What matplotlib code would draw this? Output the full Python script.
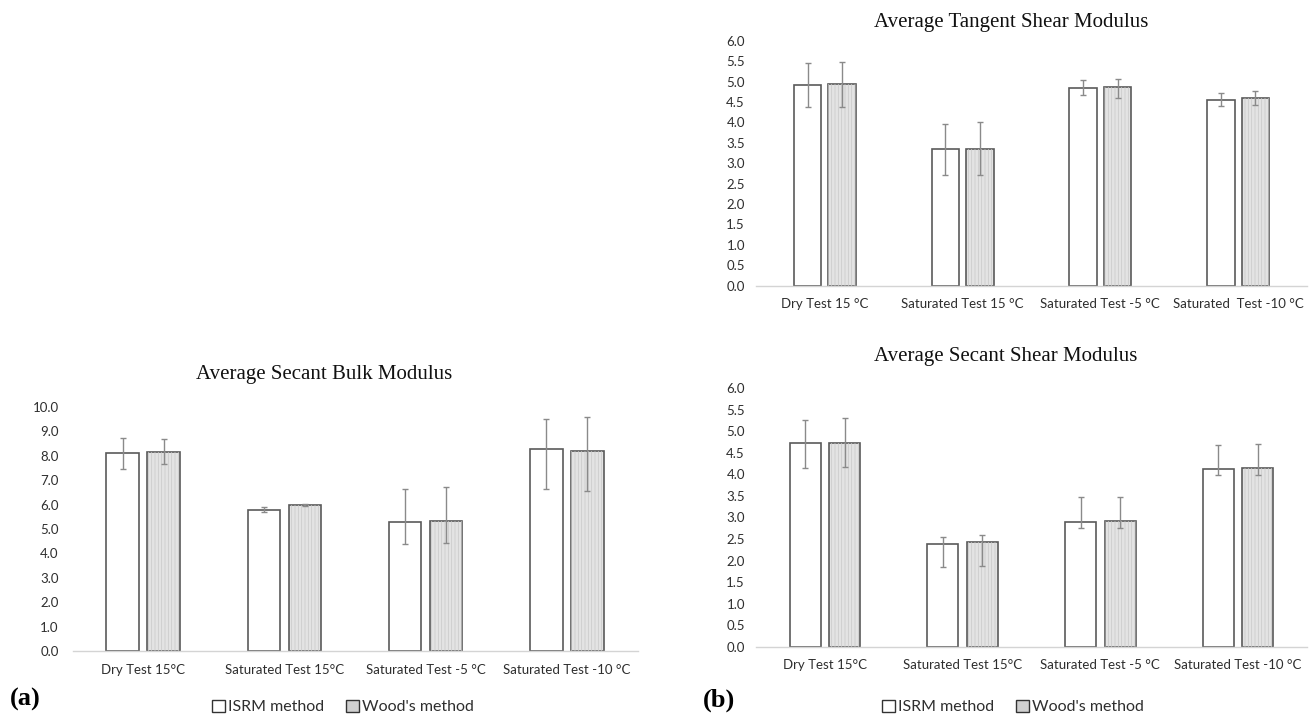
"""Recreate the three-panel modulus bar chart."""

import matplotlib

matplotlib.use("Agg")
import matplotlib.pyplot as plt
from matplotlib.patches import Patch

# Data
cats_bulk = ["Dry Test 15\u00b0C", "Saturated Test 15\u00b0C",
             "Saturated Test -5 \u00b0C", "Saturated Test -10 \u00b0C"]
isrm_bulk = [8.10, 5.78, 5.27, 8.27]
isrm_bulk_lo = [0.64, 0.08, 0.87, 1.62]
isrm_bulk_hi = [0.64, 0.11, 1.38, 1.25]
wood_bulk = [8.17, 5.98, 5.33, 8.21]
wood_bulk_lo = [0.51, 0.05, 0.90, 1.67]
wood_bulk_hi = [0.50, 0.05, 1.40, 1.38]

cats_tan = ["Dry Test 15 \u00b0C", "Saturated Test 15 \u00b0C",
            "Saturated Test -5 \u00b0C", "Saturated  Test -10 \u00b0C"]
isrm_tan = [4.92, 3.34, 4.85, 4.56]
isrm_tan_lo = [0.54, 0.63, 0.17, 0.17]
isrm_tan_hi = [0.54, 0.63, 0.18, 0.16]
wood_tan = [4.93, 3.36, 4.87, 4.59]
wood_tan_lo = [0.55, 0.65, 0.27, 0.16]
wood_tan_hi = [0.55, 0.65, 0.20, 0.19]

cats_sec = ["Dry Test 15\u00b0C", "Saturated Test 15\u00b0C",
            "Saturated Test -5 \u00b0C", "Saturated Test -10 \u00b0C"]
isrm_sec = [4.72, 2.39, 2.90, 4.12]
isrm_sec_lo = [0.56, 0.55, 0.15, 0.13]
isrm_sec_hi = [0.54, 0.16, 0.58, 0.57]
wood_sec = [4.72, 2.44, 2.92, 4.14]
wood_sec_lo = [0.55, 0.57, 0.16, 0.15]
wood_sec_hi = [0.58, 0.15, 0.56, 0.57]

W, H = 1314, 716
SANS = ["Lato", "DejaVu Sans"]
SERIF = ["Liberation Serif", "DejaVu Serif"]
EDGE = "#5a5a5a"
ERR = "#8a8a8a"
WOOD_FILL = "#e3e3e3"
TEXT = "#2e2e2e"

plt.rcParams["hatch.linewidth"] = 0.5


def px_axes(fig, x0, x1, y_bottom, y_top):
    """Add axes from pixel coordinates (y measured from top)."""
    return fig.add_axes([x0 / W, 1 - y_bottom / H, (x1 - x0) / W,
                         (y_bottom - y_top) / H])


def draw_panel(ax, cats, isrm, isrm_err, wood, wood_err, ymax, step,
               width, offset, ypad):
    x = list(range(len(cats)))
    xi = [v - offset for v in x]
    xw = [v + offset for v in x]
    ekw = dict(ecolor=ERR, elinewidth=1.0, capsize=2.2, capthick=1.0)
    ax.bar(xi, isrm, width, color="white", edgecolor=EDGE, linewidth=1.2,
           zorder=2)
    ax.bar(xw, wood, width, color=WOOD_FILL, edgecolor=EDGE, linewidth=1.2,
           zorder=2)
    ax.bar(xw, wood, width, color="none", edgecolor="#c8c8c8", linewidth=0,
           hatch="|||||", zorder=2.5)
    ax.errorbar(xi, isrm, yerr=isrm_err, fmt="none", zorder=3, **ekw)
    ax.errorbar(xw, wood, yerr=wood_err, fmt="none", zorder=3, **ekw)

    ax.set_xlim(-0.5, len(cats) - 0.5)
    ax.set_ylim(0, ymax)
    n = int(round(ymax / step))
    ticks = [i * step for i in range(n + 1)]
    ax.set_yticks(ticks)
    ax.set_yticklabels([f"{t:.1f}" for t in ticks], fontsize=9.5,
                       family=SANS, color=TEXT)
    ax.set_xticks(x)
    ax.set_xticklabels(cats, fontsize=9.5, family=SANS, color=TEXT)
    ax.tick_params(length=0)
    ax.tick_params(axis="x", pad=9)
    ax.tick_params(axis="y", pad=ypad)
    for s in ["top", "right", "left"]:
        ax.spines[s].set_visible(False)
    ax.spines["bottom"].set_color("#d4d4d4")
    ax.spines["bottom"].set_linewidth(1.0)
    ax.set_facecolor("none")


fig = plt.figure(figsize=(W / 100, H / 100), dpi=100)

ax_a = px_axes(fig, 72.5, 637.5, 651, 407)
draw_panel(ax_a, cats_bulk, isrm_bulk, [isrm_bulk_lo, isrm_bulk_hi],
           wood_bulk, [wood_bulk_lo, wood_bulk_hi], 10, 1.0,
           0.23, 0.145, 10)

ax_t = px_axes(fig, 756, 1307, 285.7, 40.7)
draw_panel(ax_t, cats_tan, isrm_tan, [isrm_tan_lo, isrm_tan_hi],
           wood_tan, [wood_tan_lo, wood_tan_hi], 6, 0.5,
           0.2, 0.125, 8)

ax_s = px_axes(fig, 756, 1307, 646.7, 388.3)
draw_panel(ax_s, cats_sec, isrm_sec, [isrm_sec_lo, isrm_sec_hi],
           wood_sec, [wood_sec_lo, wood_sec_hi], 6, 0.5,
           0.225, 0.143, 8)

# Titles
title_kw = dict(ha="center", va="center", fontsize=15, family=SERIF,
                color="#111111")
fig.text(324 / W, 1 - 375 / H, "Average Secant Bulk Modulus", **title_kw)
fig.text(1011 / W, 1 - 22.7 / H, "Average Tangent Shear Modulus", **title_kw)
fig.text(1006 / W, 1 - 356.7 / H, "Average Secant Shear Modulus", **title_kw)

# Panel letters
fig.text(25 / W, 1 - 699 / H, "(a)", ha="center", va="center", fontsize=19,
         fontweight="bold", family=SERIF)
fig.text(719 / W, 1 - 700 / H, "(b)", ha="center", va="center", fontsize=19,
         fontweight="bold", family=SERIF)

# Legends
handles = [Patch(facecolor="white", edgecolor="#333333", linewidth=1.0,
                 label="ISRM method"),
           Patch(facecolor="#cfcfcf", edgecolor="#333333", linewidth=1.0,
                 label="Wood's method")]
leg_kw = dict(handles=handles, ncol=2, frameon=False, loc="center",
              prop={"family": SANS, "size": 11.5}, handlelength=0.8,
              handleheight=0.8, handletextpad=0.2, columnspacing=1.4,
              labelcolor=TEXT)
fig.legend(bbox_to_anchor=(343 / W, 1 - 707 / H), **leg_kw)
fig.legend(bbox_to_anchor=(1013 / W, 1 - 707 / H), **leg_kw)

fig.savefig("out.png", dpi=100, facecolor="white")
